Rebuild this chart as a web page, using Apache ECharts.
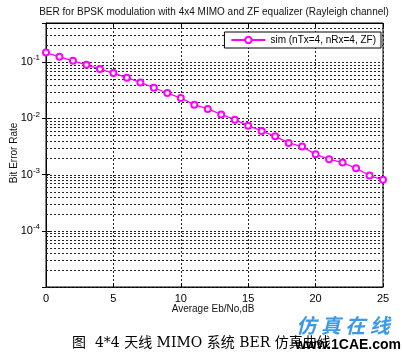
<!DOCTYPE html>
<html>
<head>
<meta charset="utf-8">
<script src="https://cdn.jsdelivr.net/npm/echarts@6/dist/echarts.min.js"></script>
<style>
  html, body { margin: 0; padding: 0; background: #fff; }
  #main { width: 403px; height: 353px; }
</style>
</head>
<body>
<div id="main"></div>
<script>
// Eb/No (dB) and simulated BER
var ebno = [0, 1, 2, 3, 4, 5, 6, 7, 8, 9, 10, 11, 12, 13, 14, 15, 16, 17, 18, 19, 20, 21, 22, 23, 24, 25];
var berSim = [0.149, 0.125, 0.106, 0.0903, 0.0757, 0.0643, 0.0531, 0.0438, 0.0352, 0.0284,
  0.0231, 0.0176, 0.0148, 0.0118, 0.00953, 0.00745, 0.0060, 0.00481, 0.00367, 0.00316,
  0.00230, 0.00188, 0.00164, 0.00130, 0.000964, 0.000809];
var seriesName = 'sim (nTx=4, nRx=4, ZF)';
var decades = [-5, -4, -3, -2, -1];

// horizontal log grid lines (1..9 x 10^n), matlab style
var yGrid = [];
decades.forEach(function (e) {
  for (var m = 1; m <= 9; m++) {
    var v = m * Math.pow(10, e);
    if (v < 0.5) yGrid.push(v);
  }
});

var myChart = echarts.init(document.getElementById('main'));
var font = "'Liberation Sans', Arial, sans-serif";
var dotted = { type: [2, 2], color: '#222', width: 1 };

function yLabel(v) {
  var e = Math.round(Math.log10(v));
  if (Math.abs(v - Math.pow(10, e)) / v > 1e-6) return '';
  if (e <= -5) return '';
  return '{b|10}{s|' + e + '}';
}

// one dotted line across the plot for each grid value
function gridLine(params, api) {
  var v = api.value(1);
  var p1 = api.coord([0, v]);
  var p2 = api.coord([25, v]);
  var y = Math.round(p1[1]) + 0.5;
  return {
    type: 'line',
    shape: { x1: p1[0], y1: y, x2: p2[0], y2: y },
    style: { stroke: '#222', lineWidth: 1, lineDash: [2, 2] },
    silent: true
  };
}

var option = {
  animation: false,
  backgroundColor: '#fff',
  grid: {
    left: 46, right: 20, top: 23, bottom: 66,
    show: true, borderColor: '#000', borderWidth: 1
  },
  legend: {
    data: [seriesName],
    right: 22, top: 32,
    backgroundColor: '#fff',
    borderColor: '#000', borderWidth: 1,
    borderRadius: 0,
    padding: [3, 5, 3, 6],
    itemWidth: 34, itemHeight: 8,
    textStyle: { fontSize: 10, color: '#000', fontFamily: font }
  },
  xAxis: [{
    type: 'value', min: 0, max: 25, interval: 5,
    axisLine: { lineStyle: { color: '#000' } },
    axisTick: { inside: true, length: 4, lineStyle: { color: '#000' } },
    axisLabel: { color: '#000', fontSize: 11, fontFamily: font, margin: 6 },
    splitLine: { show: true, lineStyle: dotted }
  }, {
    type: 'value', min: 0, max: 25, interval: 5, position: 'top',
    axisLine: { lineStyle: { color: '#000' } },
    axisTick: { inside: true, length: 4, lineStyle: { color: '#000' } },
    axisLabel: { show: false },
    splitLine: { show: false }
  }],
  yAxis: [{
    type: 'log', logBase: 10, min: 1e-5, max: 0.5,
    axisLine: { show: true, lineStyle: { color: '#000' } },
    axisTick: { inside: true, length: 4, lineStyle: { color: '#000' } },
    axisLabel: {
      color: '#000', fontFamily: font, margin: 6,
      formatter: yLabel,
      rich: {
        b: { fontSize: 11, color: '#000', fontFamily: font },
        s: { fontSize: 8, color: '#000', fontFamily: font, padding: [0, 0, 8, 0] }
      }
    },
    splitLine: { show: false }
  }, {
    type: 'log', logBase: 10, min: 1e-5, max: 0.5, position: 'right',
    axisLine: { show: true, lineStyle: { color: '#000' } },
    axisTick: { inside: true, length: 4, lineStyle: { color: '#000' } },
    axisLabel: { show: false },
    splitLine: { show: false }
  }],
  series: [{
    type: 'custom',
    renderItem: gridLine,
    data: yGrid.map(function (v) { return [0, v]; }),
    encode: { x: 0, y: 1 },
    silent: true,
    z: 1
  }, {
    name: seriesName,
    type: 'line',
    data: ebno.map(function (x, i) { return [x, berSim[i]]; }),
    symbol: 'emptyCircle',
    symbolSize: 6,
    lineStyle: { color: '#ff00ff', width: 1.3 },
    itemStyle: { color: '#ff00ff', borderColor: '#ff00ff', borderWidth: 1.1 },
    z: 5
  }],
  graphic: [{
    type: 'text', x: 214, y: 12,
    style: {
      text: 'BER for BPSK modulation with 4x4 MIMO and ZF equalizer (Rayleigh channel)',
      align: 'center', verticalAlign: 'middle',
      fontSize: 10, fontFamily: font, fill: '#111'
    }
  }, {
    type: 'text', rotation: Math.PI / 2, x: 14, y: 153,
    style: {
      text: 'Bit Error Rate', align: 'center', verticalAlign: 'middle',
      fontSize: 10, fontFamily: font, fill: '#111'
    }
  }, {
    type: 'text', x: 213, y: 309,
    style: {
      text: 'Average Eb/No,dB', align: 'center', verticalAlign: 'middle',
      fontSize: 10, fontFamily: font, fill: '#111'
    }
  }, {
    type: 'text', x: 72, y: 343,
    style: {
      text: '图  4*4 天线 MIMO 系统 BER 仿真曲线', align: 'left', verticalAlign: 'middle',
      fontSize: 14, fontFamily: "'DejaVu Serif', 'Noto Sans CJK SC', serif", fill: '#000'
    }
  }, {
    type: 'text', x: 343, y: 325,
    style: {
      text: '仿 真 在 线', align: 'center', verticalAlign: 'middle',
      fontSize: 20, fontStyle: 'italic', fontWeight: 'bold',
      fontFamily: "'Noto Sans CJK SC', sans-serif", fill: '#3a9ae6'
    }
  }, {
    type: 'text', x: 348, y: 345,
    style: {
      text: '{a|www.}{b|1CAE}{a|.com}', align: 'center', verticalAlign: 'middle',
      rich: {
        a: { fontSize: 14, fontWeight: 'bold', fontFamily: font, color: '#2a8fe0' },
        b: { fontSize: 14, fontWeight: 'bold', fontFamily: font, color: '#f06020' }
      }
    }
  }]
};
myChart.setOption(option);
</script>
</body>
</html>
